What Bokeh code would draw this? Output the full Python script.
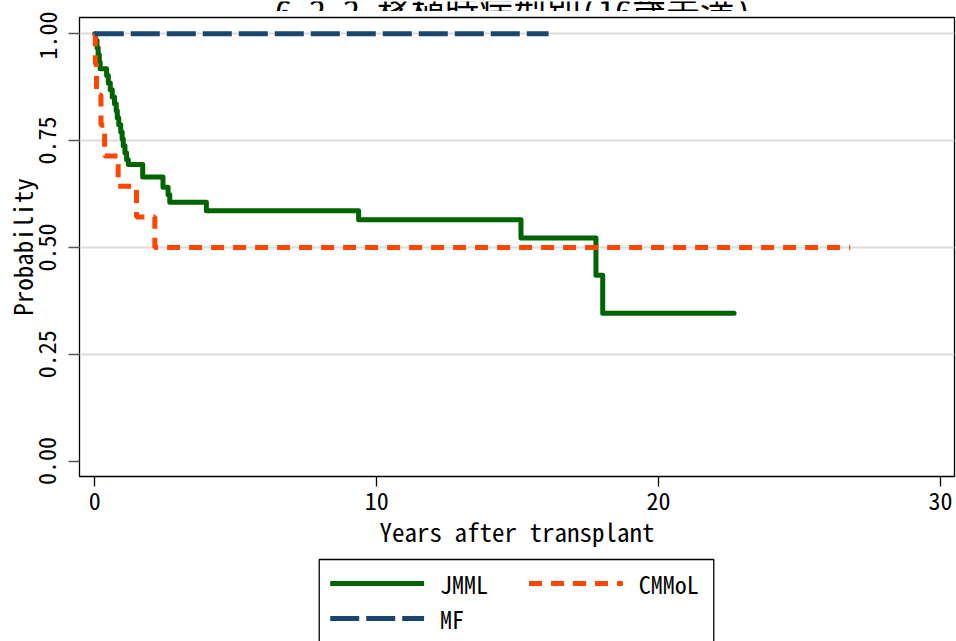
from bokeh.plotting import figure
from bokeh.layouts import column
from bokeh.models import Range1d, FixedTicker
from bokeh.embed import file_html
from bokeh.resources import INLINE
from bokeh.core.properties import value

# ---------------- data ----------------
title_text = "6.2-2 移植時病型別(16歳未満)"
x_label = "Years after transplant"
y_label = "Probability"
x_ticks = [0, 10, 20, 30]
y_ticks = [0.0, 0.25, 0.5, 0.75, 1.0]
y_tick_labels = ["0.00", "0.25", "0.50", "0.75", "1.00"]
grid_ticks = [0.25, 0.5, 0.75, 1.0]

series_names = ["JMML", "CMMoL", "MF"]

jmml_t = [0.0, 0.03, 0.08, 0.12, 0.16, 0.19, 0.42, 0.48, 0.55, 0.62, 0.70, 0.76,
          0.80, 0.85, 0.92, 0.97, 1.01, 1.07, 1.13, 1.19, 1.70, 2.42, 2.60, 2.66,
          3.96, 9.36, 15.12, 17.78, 18.02, 22.68]
jmml_s = [1.0, 0.984, 0.967, 0.951, 0.934, 0.918, 0.902, 0.885, 0.869, 0.852, 0.836, 0.820,
          0.803, 0.787, 0.770, 0.754, 0.738, 0.721, 0.705, 0.694, 0.665, 0.641, 0.623, 0.606,
          0.586, 0.565, 0.522, 0.435, 0.346, 0.346]

cmmol_t = [0.0, 0.02, 0.06, 0.22, 0.35, 0.83, 1.48, 2.13, 26.8]
cmmol_s = [1.0, 0.929, 0.857, 0.786, 0.714, 0.643, 0.571, 0.500, 0.500]

mf_t = [0.0, 16.1]
mf_s = [1.0, 1.0]

# ---------------- styling ----------------
FONT = "Noto Sans Mono CJK JP"
COLORS = ["#006400", "#FF4500", "#1A476F"]
DASHES = ["solid", "13 9", "29 7"]
LW = 5

W = 956
HEAD_H = 11
MAIN_H = 544
LEG_H = 86
FRAME_L, FRAME_R = 78, 954     # the column aligns every child's frame to these

# ---- title strip (the reference shows only the lower part of the title) ----
head = figure(width=W, height=HEAD_H, output_backend="svg", toolbar_location=None,
              x_range=Range1d(FRAME_L, FRAME_R), y_range=Range1d(0, HEAD_H),
              x_axis_location=None, y_axis_location=None, min_border=0)
head.outline_line_color = None
head.grid.visible = False
head.text(x=[512], y=[3], text=[title_text], text_align="center",
          text_baseline="alphabetic", text_font=value(FONT),
          text_font_size="34px", text_color="black")

# ---- main plot ----
main = figure(width=W, height=MAIN_H, output_backend="svg", toolbar_location=None,
              x_range=Range1d(-0.542, 30.50), y_range=Range1d(-0.036, 1.038),
              min_border_left=FRAME_L, min_border_right=W - FRAME_R, min_border_top=6,
              min_border_bottom=79)
main.background_fill_color = "white"
main.border_fill_color = "white"
main.outline_line_color = "black"
main.outline_line_width = 1.3

main.xgrid.visible = False
main.ygrid.ticker = FixedTicker(ticks=grid_ticks)
main.ygrid.grid_line_color = "#DCDCDC"
main.ygrid.grid_line_width = 2

main.xaxis.ticker = FixedTicker(ticks=x_ticks)
main.yaxis.ticker = FixedTicker(ticks=y_ticks)
main.yaxis.major_label_overrides = {t: s for t, s in zip(y_ticks, y_tick_labels)}
main.yaxis.major_label_orientation = "vertical"

for ax in (main.xaxis, main.yaxis):
    ax.axis_line_color = None
    ax.minor_tick_line_color = None
    ax.major_tick_in = 0
    ax.major_label_text_font = FONT
    ax.major_label_text_font_size = "24px"
    ax.major_label_text_color = "black"
    ax.major_tick_line_width = 1.3
    ax.axis_label_text_font = FONT
    ax.axis_label_text_font_size = "25px"
    ax.axis_label_text_font_style = "normal"
    ax.axis_label_text_color = "black"

main.xaxis.major_tick_out = 10
main.xaxis.major_tick_line_color = "black"
main.xaxis.major_label_standoff = 5
main.xaxis.axis_label = x_label
main.xaxis.axis_label_standoff = 0

main.yaxis.major_tick_out = 11
main.yaxis.major_tick_line_color = "#555555"
main.yaxis.major_label_standoff = 12
main.yaxis.axis_label = y_label
main.yaxis.axis_label_standoff = -4

# ---------------- curves ----------------
curves = [(jmml_t, jmml_s), (cmmol_t, cmmol_s), (mf_t, mf_s)]
for (t, s), c, d in zip(curves, COLORS, DASHES):
    if d == "solid":
        main.step(t, s, mode="after", line_color=c, line_width=LW,
                  line_join="round", line_cap="round")
    else:
        main.step(t, s, mode="after", line_color=c, line_width=LW, line_dash=d)

# ---- legend strip (box runs past the bottom edge, as in the reference) ----
leg = figure(width=W, height=LEG_H, output_backend="svg", toolbar_location=None,
             x_range=Range1d(FRAME_L, FRAME_R), y_range=Range1d(0, LEG_H),
             x_axis_location=None, y_axis_location=None, min_border=0)
leg.outline_line_color = None
leg.grid.visible = False

box_left, box_right, box_top = 318, 713, 82
leg.quad(left=[box_left], right=[box_right], top=[box_top], bottom=[-10],
         fill_color="white", line_color="black", line_width=1.3)

slot_x = [329, 528, 329]      # start of each legend sample line
slot_y = [58, 58, 23]         # row centre of each legend entry
sample_len = 94
label_gap = 16
for name, c, d, sx, sy in zip(series_names, COLORS, DASHES, slot_x, slot_y):
    leg.line([sx, sx + sample_len], [sy, sy], line_color=c, line_width=LW,
             line_dash=d)
    leg.text(x=[sx + sample_len + label_gap], y=[sy], text=[name],
             text_align="left", text_baseline="middle", text_font=value(FONT),
             text_font_size="24px", text_color="black")

p = column(head, main, leg, spacing=0)

open("out.html", "w").write(file_html(p, INLINE))
